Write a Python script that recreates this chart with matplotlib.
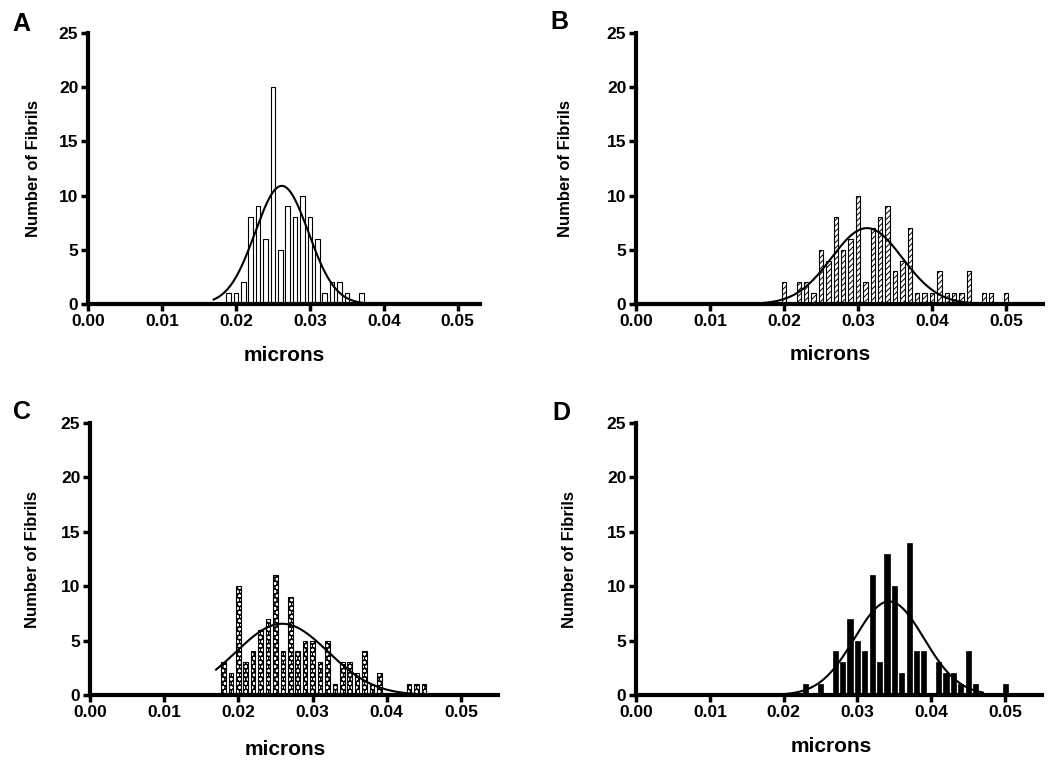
"""
fibril diameter histograms (4 panels) with gaussian fit
"""
import numpy as np
import matplotlib
matplotlib.use('Agg')
import matplotlib.pyplot as plt

plt.rcParams['font.family'] = ['Liberation Sans', 'DejaVu Sans']
plt.rcParams['font.weight'] = 'bold'
plt.rcParams['hatch.linewidth'] = 0.7

# bin centres (microns) and counts
bins_a = [0.019, 0.020, 0.021, 0.022, 0.023, 0.024, 0.025, 0.026, 0.027, 0.028,
          0.029, 0.030, 0.031, 0.032, 0.033, 0.034, 0.035, 0.036, 0.037]
counts_a = [1, 1, 2, 8, 9, 6, 20, 5, 9, 8, 10, 8, 6, 1, 2, 2, 1, 0, 1]

bins_b = [0.020, 0.021, 0.022, 0.023, 0.024, 0.025, 0.026, 0.027, 0.028, 0.029,
          0.030, 0.031, 0.032, 0.033, 0.034, 0.035, 0.036, 0.037, 0.038, 0.039,
          0.040, 0.041, 0.042, 0.043, 0.044, 0.045, 0.046, 0.047, 0.048, 0.049, 0.050]
counts_b = [2, 0, 2, 2, 1, 5, 4, 8, 5, 6, 10, 2, 7, 8, 9, 3, 4, 7, 1, 1,
            1, 3, 1, 1, 1, 3, 0, 1, 1, 0, 1]

bins_c = [0.018, 0.019, 0.020, 0.021, 0.022, 0.023, 0.024, 0.025, 0.026, 0.027,
          0.028, 0.029, 0.030, 0.031, 0.032, 0.033, 0.034, 0.035, 0.036, 0.037,
          0.038, 0.039, 0.040, 0.041, 0.042, 0.043, 0.044, 0.045]
counts_c = [3, 2, 10, 3, 4, 6, 7, 11, 4, 9, 4, 5, 5, 3, 5, 1, 3, 3, 2, 4,
            1, 2, 0, 0, 0, 1, 1, 1]

bins_d = [0.023, 0.024, 0.025, 0.026, 0.027, 0.028, 0.029, 0.030, 0.031, 0.032,
          0.033, 0.034, 0.035, 0.036, 0.037, 0.038, 0.039, 0.040, 0.041, 0.042,
          0.043, 0.044, 0.045, 0.046, 0.047, 0.048, 0.049, 0.050]
counts_d = [1, 0, 1, 0, 4, 3, 7, 5, 4, 11, 3, 13, 10, 2, 14, 4, 4, 0, 3, 2,
            2, 1, 4, 1, 0, 0, 0, 1]

# gaussian fit: amplitude, mean, sd, start, end
fit_a = [10.9, 0.0262, 0.0036, 0.017, 0.037]
fit_b = [7.0, 0.0312, 0.0048, 0.017, 0.045]
fit_c = [6.55, 0.0259, 0.0062, 0.017, 0.044]
fit_d = [8.6, 0.0343, 0.0047, 0.0195, 0.047]

panel_letters = ['A', 'B', 'C', 'D']
x_ticks = [0.00, 0.01, 0.02, 0.03, 0.04, 0.05]
y_ticks = [0, 5, 10, 15, 20, 25]

fig = plt.figure(figsize=(10.5, 7.7), dpi=100)

def px_axes(left, right, bottom, top):
    return fig.add_axes([left / 1050, (770 - bottom) / 770,
                         (right - left) / 1050, (bottom - top) / 770])

axA = px_axes(88, 480, 304, 33)
axB = px_axes(636, 1043, 304, 33)
axC = px_axes(90, 498, 695, 423)
axD = px_axes(636, 1042, 695, 423)

def style(ax, xmax, ylab_x, xlab_pos):
    ax.set_xlim(0, xmax)
    ax.set_ylim(0, 25)
    ax.set_xticks(x_ticks)
    ax.set_yticks(y_ticks)
    ax.set_xticklabels(['%.2f' % t for t in x_ticks])
    for s in ['top', 'right']:
        ax.spines[s].set_visible(False)
    for s in ['left', 'bottom']:
        ax.spines[s].set_linewidth(3)
    ax.tick_params(direction='out', length=5, width=2.5, labelsize=12.5, pad=2)
    ax.set_ylabel('Number of Fibrils', fontsize=12, fontweight='bold', va='center')
    ax.yaxis.set_label_coords(ylab_x, 0.5)
    ax.set_xlabel('microns', fontsize=15, fontweight='bold', va='center')
    ax.xaxis.set_label_coords(xlab_pos[0], xlab_pos[1])

def fit_curve(ax, fit):
    x = np.linspace(fit[3], fit[4], 200)
    y = fit[0] * np.exp(-(x - fit[1]) ** 2 / (2 * fit[2] ** 2))
    ax.plot(x, y, color='black', lw=1.5, zorder=5)

w = 0.00062
axA.bar(bins_a, counts_a, width=w, facecolor='white', edgecolor='black', linewidth=0.8)
fit_curve(axA, fit_a)
style(axA, 0.053, -0.14, (0.5, -0.19))

axB.bar(bins_b, counts_b, width=w, facecolor='white', edgecolor='black',
        linewidth=0.8, hatch='//////')
fit_curve(axB, fit_b)
style(axB, 0.055, -0.174, (0.477, -0.188))

axC.bar(bins_c, counts_c, width=w, facecolor='black', edgecolor='white',
        linewidth=0, hatch='oooo')
axC.bar(bins_c, counts_c, width=w, facecolor='none', edgecolor='black', linewidth=0.8)
fit_curve(axC, fit_c)
style(axC, 0.055, -0.14, (0.478, -0.202))

axD.bar(bins_d, counts_d, width=0.0007, facecolor='black', edgecolor='black', linewidth=0.5)
fit_curve(axD, fit_d)
style(axD, 0.055, -0.163, (0.482, -0.19))

letter_pos = [(21, 24), (559, 22), (22, 412), (561, 413)]
for lab, (x, y) in zip(panel_letters, letter_pos):
    fig.text(x / 1050, 1 - y / 770, lab, fontsize=18, fontweight='bold',
             ha='center', va='center')

plt.savefig('out.png', dpi=100)
